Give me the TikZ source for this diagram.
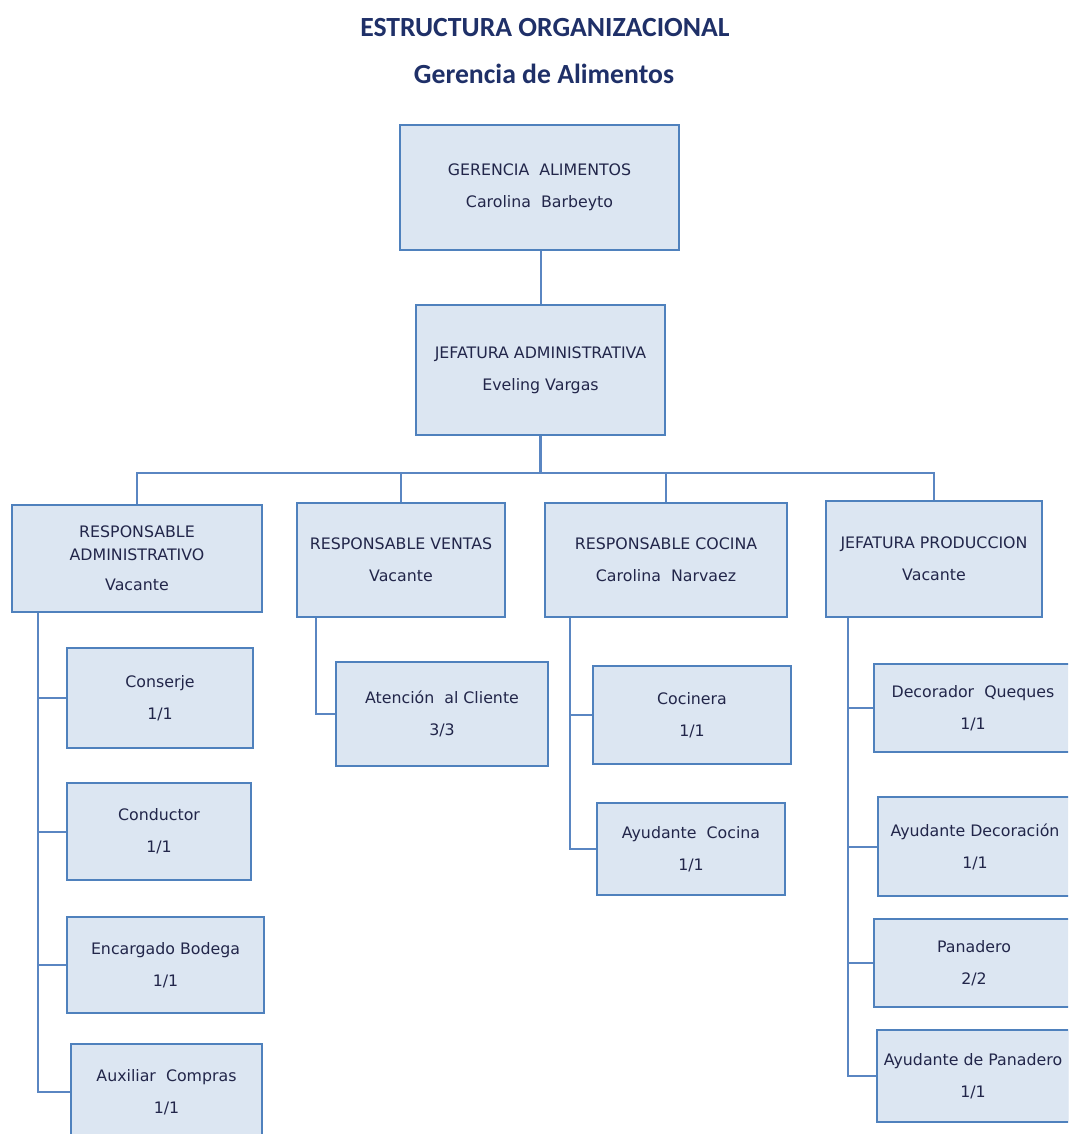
\documentclass[tikz,border=0pt]{standalone}
\usepackage{fontspec}
\setmainfont{DejaVu Sans}
\newfontfamily\titlefont{Carlito}
\definecolor{boxline}{HTML}{4F81BD}
\definecolor{boxfill}{HTML}{DCE6F2}
\definecolor{connclr}{HTML}{5A86C2}
\definecolor{txtclr}{HTML}{22264A}
\definecolor{titleclr}{HTML}{1F3068}
\tikzset{
  orgbox/.style={draw=boxline, fill=boxfill, line width=1.8pt, inner sep=0pt,
    align=center, text=txtclr, font=\fontsize{15.8}{32}\selectfont},
  conn/.style={draw=connclr, line width=2pt},
  titletext/.style={text=titleclr, font=\titlefont\bfseries\fontsize{27.7}{33}\selectfont, inner sep=0pt},
}
\begin{document}
\begin{tikzpicture}[x=1pt,y=-1pt]
\useasboundingbox (0,0) rectangle (1068,1134);
\clip (0,0) rectangle (1068,1134);
\fill[white] (0,0) rectangle (1068,1134);

\node[titletext] (t1) at (545,28) {ESTRUCTURA ORGANIZACIONAL};
\node[titletext] (t2) at (544,74) {Gerencia de Alimentos};

% top levels
\node[orgbox, minimum width=279pt, minimum height=125pt] (ger) at (539.5,187.5) {GERENCIA~~ALIMENTOS\\Carolina~~Barbeyto};
\node[orgbox, minimum width=249pt, minimum height=130pt] (jad) at (540.5,370) {JEFATURA ADMINISTRATIVA\\Eveling Vargas};

\node[orgbox, minimum width=250pt, minimum height=107pt] (rad) at (137,558.5) {RESPONSABLE\\[-9pt]ADMINISTRATIVO\\[-2pt]Vacante};
\node[orgbox, minimum width=208pt, minimum height=114pt] (rve) at (401,560) {RESPONSABLE VENTAS\\Vacante};
\node[orgbox, minimum width=242pt, minimum height=114pt] (rco) at (666,560) {RESPONSABLE COCINA\\Carolina~~Narvaez};
\node[orgbox, minimum width=216pt, minimum height=116pt] (jpr) at (934,559) {JEFATURA PRODUCCION\\Vacante};

% children
\node[orgbox, minimum width=186pt, minimum height=100pt] (c1) at (160,698) {Conserje\\1/1};
\node[orgbox, minimum width=184pt, minimum height=97pt] (c2) at (159,831.5) {Conductor\\1/1};
\node[orgbox, minimum width=197pt, minimum height=96pt] (c3) at (165.5,965) {Encargado Bodega\\1/1};
\node[orgbox, minimum width=191pt, minimum height=96pt] (c4) at (166.5,1092) {Auxiliar~~Compras\\1/1};

\node[orgbox, minimum width=212pt, minimum height=104pt] (v1) at (442,714) {Atención~~al Cliente\\3/3};

\node[orgbox, minimum width=198pt, minimum height=98pt] (k1) at (692,715) {Cocinera\\1/1};
\node[orgbox, minimum width=188pt, minimum height=92pt] (k2) at (691,849) {Ayudante~~Cocina\\1/1};

\node[orgbox, minimum width=198pt, minimum height=88pt] (p1) at (973,708) {Decorador~~Queques\\1/1};
\node[orgbox, minimum width=194pt, minimum height=99pt] (p2) at (975,846.5) {Ayudante Decoración\\1/1};
\node[orgbox, minimum width=200pt, minimum height=88pt] (p3) at (974,963) {Panadero\\2/2};
\node[orgbox, minimum width=192pt, minimum height=92pt] (p4) at (973,1076) {Ayudante de Panadero\\1/1};

% connectors
\coordinate (bus) at (540.5,473);
\draw[conn] (jad.north) -- (jad.north |- ger.south);
\draw[conn, line width=3pt] (jad.south) -- (bus);
\draw[conn] (bus) -| (rad.north);
\draw[conn] (bus) -| (rve.north);
\draw[conn] (bus) -| (rco.north);
\draw[conn] (bus) -| (jpr.north);

\coordinate (sa) at (38,0);
\coordinate (sv) at (316,0);
\coordinate (sk) at (570,0);
\coordinate (sp) at (848,0);

\draw[conn] (sa |- rad.south) |- (c4.west);
\draw[conn] (sa |- c1.west) -- (c1.west);
\draw[conn] (sa |- c2.west) -- (c2.west);
\draw[conn] (sa |- c3.west) -- (c3.west);

\draw[conn] (sv |- rve.south) |- (v1.west);

\draw[conn] (sk |- rco.south) |- (k2.west);
\draw[conn] (sk |- k1.west) -- (k1.west);

\draw[conn] (sp |- jpr.south) |- (p4.west);
\draw[conn] (sp |- p1.west) -- (p1.west);
\draw[conn] (sp |- p2.west) -- (p2.west);
\draw[conn] (sp |- p3.west) -- (p3.west);
\end{tikzpicture}
\end{document}
